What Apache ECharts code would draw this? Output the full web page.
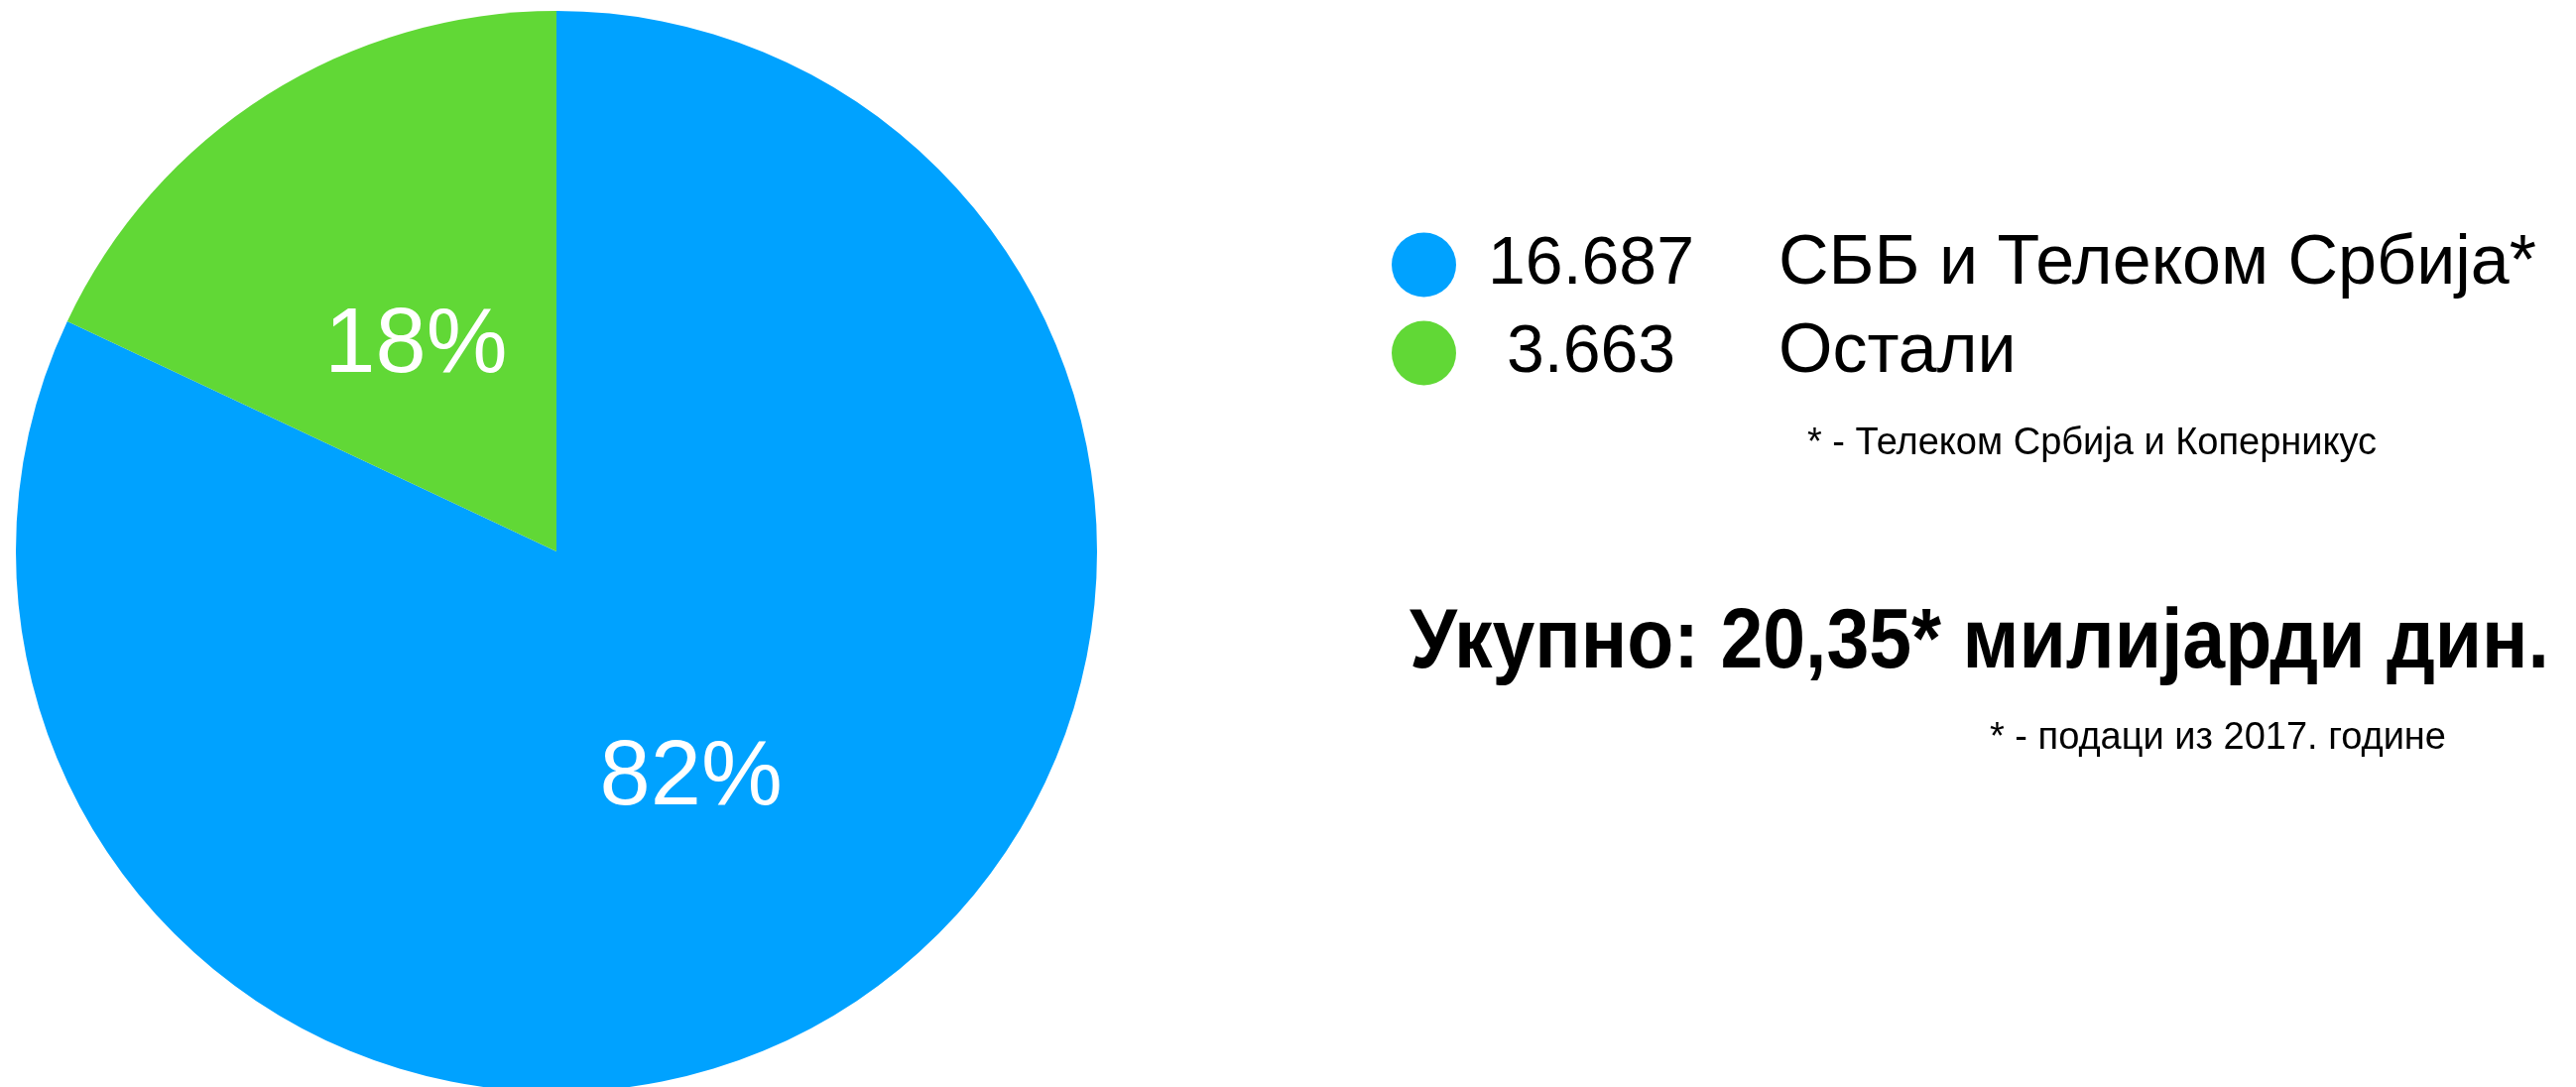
<!DOCTYPE html>
<html>
<head>
<meta charset="utf-8">
<script src="https://cdn.jsdelivr.net/npm/echarts@6/dist/echarts.min.js"></script>
<style>
  html, body { margin: 0; padding: 0; background: #fff; }
  #chart { width: 2597px; height: 1096px; }
</style>
</head>
<body>
<div id="chart"></div>
<script>
// податке (милијарде дин.)
var names = ['СББ и Телеком Србија*', 'Остали'];
var values = [16.687, 3.663];
var colors = ['#00A2FF', '#61D836'];
var noteOperators = '* - Телеком Србија и Коперникус';
var totalText = 'Укупно: 20,35* милијарди дин.';
var noteYear = '* - подаци из 2017. године';

var font = '"Liberation Sans", Arial, Helvetica, sans-serif';

// ширина наслова у оригиналу је ужа (Helvetica Neue Bold), па се сабија
var ctx = document.createElement('canvas').getContext('2d');
ctx.font = 'bold 86px ' + font;
var totalScale = 1149 / ctx.measureText(totalText).width;

var chart = echarts.init(document.getElementById('chart'));

var option = {
  backgroundColor: '#fff',
  animation: false,
  color: colors,
  legend: {
    orient: 'vertical',
    left: 1403,
    top: 232,
    padding: 0,
    icon: 'circle',
    itemWidth: 65,
    itemHeight: 65,
    itemGap: 19,
    itemTextGap: 5,
    selectedMode: false,
    data: names,
    formatter: function (name) {
      var i = names.indexOf(name);
      return '{v|' + values[i].toFixed(3) + '}{n|' + name + '}';
    },
    textStyle: {
      fontFamily: font,
      rich: {
        v: { fontSize: 68, width: 262, align: 'right', color: '#000', fontFamily: font },
        n: { fontSize: 70, padding: [0, 0, 0, 58], color: '#000', fontFamily: font }
      }
    }
  },
  graphic: [
    {
      type: 'text', left: 1822, top: 429,
      style: { text: noteOperators, font: '38px ' + font, fill: '#000' }
    },
    {
      type: 'text', x: 1421, y: 606, scaleX: totalScale,
      style: { text: totalText, font: 'bold 86px ' + font, fill: '#000' }
    },
    {
      type: 'text', left: 2006, top: 726,
      style: { text: noteYear, font: '38px ' + font, fill: '#000' }
    }
  ],
  series: [{
    type: 'pie',
    center: [561, 556],
    radius: 545,
    startAngle: 90,
    clockwise: true,
    silent: true,
    emphasis: { disabled: true },
    itemStyle: { borderWidth: 0 },
    label: {
      show: true,
      position: 'inside',
      color: '#fff',
      fontSize: 92,
      fontFamily: font,
      formatter: function (p) { return Math.round(p.percent) + '%'; }
    },
    labelLayout: function (p) {
      return p.dataIndex === 0 ? { dx: -12, dy: -3 } : { dx: 6, dy: 26 };
    },
    labelLine: { show: false },
    data: names.map(function (n, i) { return { name: n, value: values[i] }; })
  }]
};

chart.setOption(option);
</script>
</body>
</html>
